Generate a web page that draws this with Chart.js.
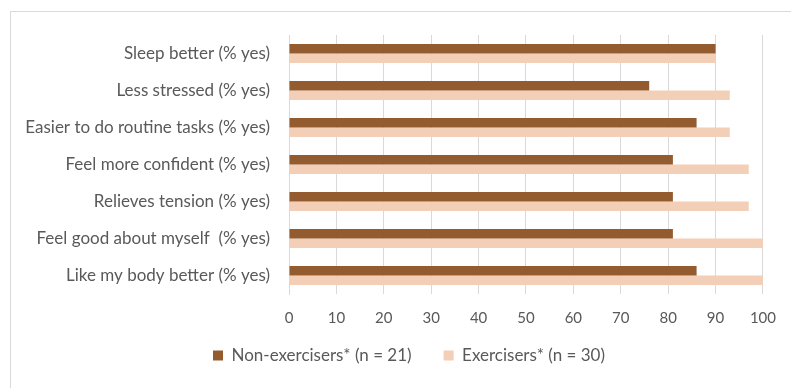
<!DOCTYPE html>
<html>
<head>
<meta charset="utf-8">
<script src="https://cdn.jsdelivr.net/npm/chart.js@4"></script>
<style>
  html, body { margin: 0; padding: 0; background: #ffffff; }
  #wrap { position: relative; width: 791px; height: 388px; }
</style>
</head>
<body>
<div id="wrap"><canvas id="benefitsChart"></canvas></div>
<script>
// categories, top to bottom
const categories = [
  "Sleep better (% yes)",
  "Less stressed (% yes)",
  "Easier to do routine tasks (% yes)",
  "Feel more confident (% yes)",
  "Relieves tension (% yes)",
  "Feel good about myself  (% yes)",
  "Like my body better (% yes)"
];
const nonExercisers = [90, 76, 86, 81, 81, 81, 86];
const exercisers = [90, 93, 93, 97, 97, 100, 100];
const xTicks = [0, 10, 20, 30, 40, 50, 60, 70, 80, 90, 100];

const textGray = "#595959";
const fontFamily = "Lato, 'Open Sans', sans-serif";

// light frame around the whole chart
const framePlugin = {
  id: "frame",
  beforeDraw(chart) {
    const ctx = chart.ctx;
    ctx.save();
    ctx.strokeStyle = "#d9d9d9";
    ctx.lineWidth = 1;
    ctx.strokeRect(10.5, 11.5, 800, 400);
    ctx.restore();
  }
};

// nudge the legend up and right so it sits like the original
const legendNudge = {
  id: "legendNudge",
  afterLayout(chart) {
    const lg = chart.legend;
    lg.top -= 14; lg.bottom -= 14;
    lg.left += 27; lg.right += 27;
  }
};

const ctx = document.getElementById("benefitsChart").getContext("2d");
new Chart(ctx, {
  type: "bar",
  data: {
    labels: categories,
    datasets: [
      {
        label: "Non-exercisers* (n = 21)",
        data: nonExercisers,
        backgroundColor: "#935b2e"
      },
      {
        label: "Exercisers* (n = 30)",
        data: exercisers,
        backgroundColor: "#f4cfb8"
      }
    ]
  },
  options: {
    indexAxis: "y",
    responsive: true,
    maintainAspectRatio: false,
    animation: false,
    datasets: {
      bar: { categoryPercentage: 0.52, barPercentage: 1.0 }
    },
    layout: {
      padding: { left: 0, right: 27, top: 35, bottom: 0 }
    },
    scales: {
      x: {
        min: 0,
        max: 100,
        afterBuildTicks(scale) {
          scale.ticks = xTicks.map(v => ({ value: v }));
        },
        afterFit(scale) { scale.height = 35; },
        grid: { color: "#d9d9d9", drawTicks: false },
        border: { display: false },
        ticks: {
          padding: 15,
          color: textGray,
          font: { family: fontFamily, size: 15 }
        }
      },
      y: {
        afterFit(scale) { scale.width = 289; },
        grid: { display: false, drawTicks: false },
        border: { display: true, color: "#d9d9d9" },
        ticks: {
          padding: 19,
          color: textGray,
          font: { family: fontFamily, size: 17 }
        }
      }
    },
    plugins: {
      legend: {
        position: "bottom",
        labels: {
          boxWidth: 10,
          boxHeight: 10,
          padding: 32,
          color: textGray,
          font: { family: fontFamily, size: 17 }
        }
      },
      tooltip: { enabled: false }
    }
  },
  plugins: [framePlugin, legendNudge]
});
</script>
</body>
</html>
